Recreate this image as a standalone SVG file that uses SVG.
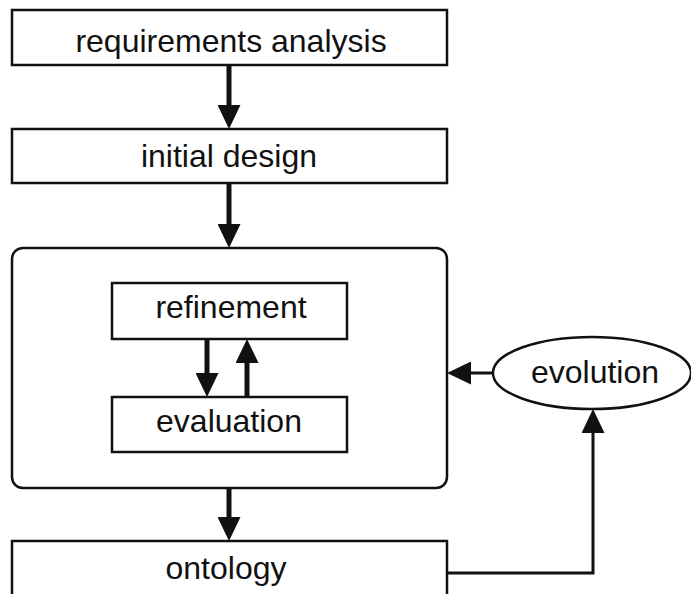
<svg xmlns="http://www.w3.org/2000/svg" width="691" height="594" viewBox="0 0 691 594">
<style>
.box{fill:#fff;stroke:#111;stroke-width:2.5}
.lbl{font-family:"Liberation Sans",Arial,sans-serif;font-size:32px;fill:#111;text-anchor:middle}
.thick{fill:none;stroke:#111;stroke-width:5}
.thin{fill:none;stroke:#111;stroke-width:3}
</style>
<defs>
<marker id="ah" markerUnits="userSpaceOnUse" markerWidth="24" markerHeight="23" viewBox="0 0 24 23" refX="2" refY="11.5" orient="auto">
<path d="M0,0 L24,11.5 L0,23 z" fill="#111"/>
</marker>
</defs>
<rect width="691" height="594" fill="#fff"/>
<g id="req">
<rect class="box" x="12" y="10" width="435" height="55"/>
<text class="lbl" x="231" y="52">requirements analysis</text>
</g>
<g id="initial">
<rect class="box" x="12" y="129" width="435" height="54"/>
<text class="lbl" x="229" y="167">initial design</text>
</g>
<g id="container">
<rect class="box" x="12" y="248" width="435" height="240" rx="11"/>
</g>
<g id="refinement">
<rect class="box" x="112" y="283" width="235" height="56"/>
<text class="lbl" x="231" y="318">refinement</text>
</g>
<g id="evaluation">
<rect class="box" x="112" y="397" width="235" height="55"/>
<text class="lbl" x="229" y="432">evaluation</text>
</g>
<g id="evolution">
<ellipse class="box" cx="592" cy="373" rx="99" ry="36"/>
<text class="lbl" x="595" y="383">evolution</text>
</g>
<g id="ontology">
<rect class="box" x="12" y="541" width="435" height="80"/>
<text class="lbl" x="226" y="579">ontology</text>
</g>
<g id="connectors">
<line class="thick" x1="229" y1="66" x2="229" y2="107" marker-end="url(#ah)"/>
<line class="thick" x1="229" y1="184" x2="229" y2="226" marker-end="url(#ah)"/>
<line class="thick" x1="229" y1="489" x2="229" y2="519" marker-end="url(#ah)"/>
<line class="thick" x1="207" y1="340" x2="207" y2="375" marker-end="url(#ah)"/>
<line class="thick" x1="247" y1="396" x2="247" y2="361" marker-end="url(#ah)"/>
<line class="thin" x1="493" y1="373" x2="469" y2="373" marker-end="url(#ah)"/>
<polyline class="thin" points="447,573 593,573 593,431" marker-end="url(#ah)"/>
</g>
</svg>
